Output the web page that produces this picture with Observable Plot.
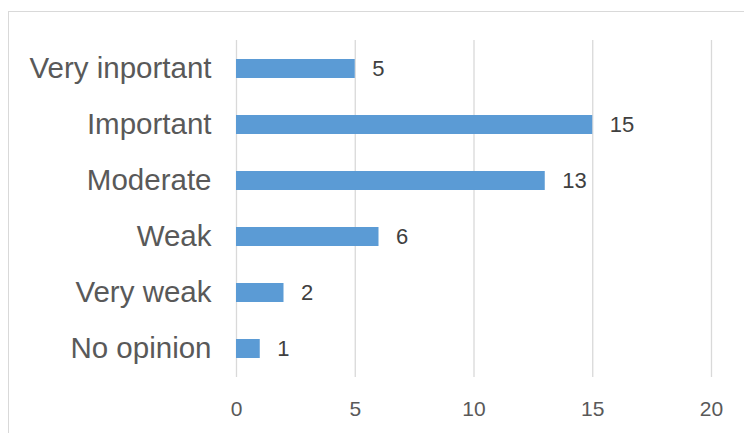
<!DOCTYPE html>
<html>
<head>
<meta charset="utf-8">
<script src="https://cdn.jsdelivr.net/npm/d3@7"></script>
<script src="https://cdn.jsdelivr.net/npm/@observablehq/plot@0.6"></script>
<style>
  html, body { margin: 0; padding: 0; background: #fff; }
  #wrap { position: relative; width: 744px; height: 433px; overflow: hidden; }
  #frame { position: absolute; left: 8px; top: 11px; width: 800px; height: 500px; border: 1px solid #d9d9d9; box-sizing: border-box; pointer-events: none; }
  #chart { position: absolute; left: 0; top: 0; }
</style>
</head>
<body>
<div id="wrap"><div id="frame"></div><div id="chart"></div></div>
<script>
const categories = ["Very inportant", "Important", "Moderate", "Weak", "Very weak", "No opinion"];
const values = [5, 15, 13, 6, 2, 1];
const xTicks = [0, 5, 10, 15, 20];

const data = categories.map((c, i) => ({category: c, value: values[i]}));

const pad = 0.655;
const chart = Plot.plot({
  width: 744,
  height: 433,
  marginLeft: 236,
  marginRight: 33,
  marginTop: 40,
  marginBottom: 56,
  style: {fontFamily: "'Liberation Sans', Arial, sans-serif", background: "transparent"},
  x: {domain: [0, 20], ticks: xTicks, grid: false, label: null},
  y: {domain: categories, label: null, paddingInner: pad, paddingOuter: pad / 2},
  marks: [
    Plot.ruleX(xTicks, {stroke: "#d9d9d9", strokeWidth: 1.3, strokeOpacity: 1}),
    Plot.barX(data, {x: "value", y: "category", fill: "#5b9bd5"}),
    Plot.text(data, {x: "value", y: "category", text: d => String(d.value), textAnchor: "start", dx: 17, fontSize: 22, fill: "#404040"}),
    Plot.axisX({ticks: xTicks, tickSize: 0, tickPadding: 24, fontSize: 21, fill: "#595959", label: null}),
    Plot.axisY({tickSize: 0, tickPadding: 25, fontSize: 29.5, fill: "#595959", label: null})
  ]
});
document.getElementById("chart").appendChild(chart);
</script>
</body>
</html>
